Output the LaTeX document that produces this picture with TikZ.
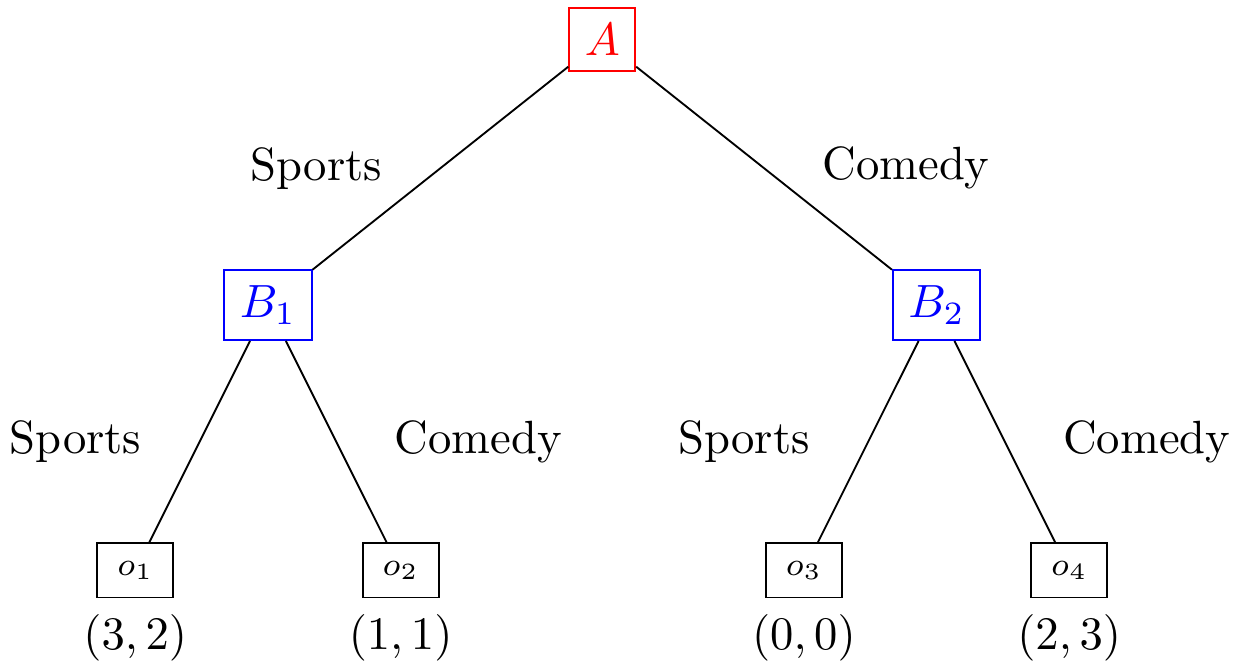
\documentclass[tikz,border=0pt]{standalone}
\usepackage{color}
\usepackage{tikz}
\usetikzlibrary{positioning}
\begin{document}
\begin{tikzpicture}[line width = .4pt]
\useasboundingbox (-4.54,-4.705) rectangle (4.80,0.30);
\draw (0,0) node[rectangle, draw, red](a){$A$}
    (-2.52,-2) node[rectangle, draw, blue](b1){$B_1$}
    (2.52,-2) node[rectangle, draw, blue](b2){$B_2$}
    (-3.52,-4) node[rectangle, draw, minimum width = 16.3pt, minimum height = 11.6pt, font = \scriptsize](o1){$o_1$}
    (-1.52,-4) node[rectangle, draw, minimum width = 16.3pt, minimum height = 11.6pt, font = \scriptsize](o2){$o_2$}
    (1.52,-4) node[rectangle, draw, minimum width = 16.3pt, minimum height = 11.6pt, font = \scriptsize](o3){$o_3$}
    (3.52,-4) node[rectangle, draw, minimum width = 16.3pt, minimum height = 11.6pt, font = \scriptsize](o4){$o_4$};
    \node[below = 0pt of o1](p1){$(3,2)$};
    \node[below = 0pt of o2](p2){$(1,1)$};
    \node[below = 0pt of o3](p3){$(0,0)$};
    \node[below = 0pt of o4](p4){$(2,3)$};
    \draw [-] (a) -- (b1) node[midway, left = 9pt] {Sports};
    \draw [-] (a) -- (b2) node[midway, right = 9pt] {Comedy};
    \draw [-] (b1) -- (o1) node[midway, left = 9pt] {Sports};
    \draw [-] (b1) -- (o2) node[midway, right = 9pt] {Comedy};
    \draw [-] (b2) -- (o3) node[midway, left = 9pt] {Sports};
    \draw [-] (b2) -- (o4) node[midway, right = 9pt] {Comedy};
\end{tikzpicture}
\end{document}
